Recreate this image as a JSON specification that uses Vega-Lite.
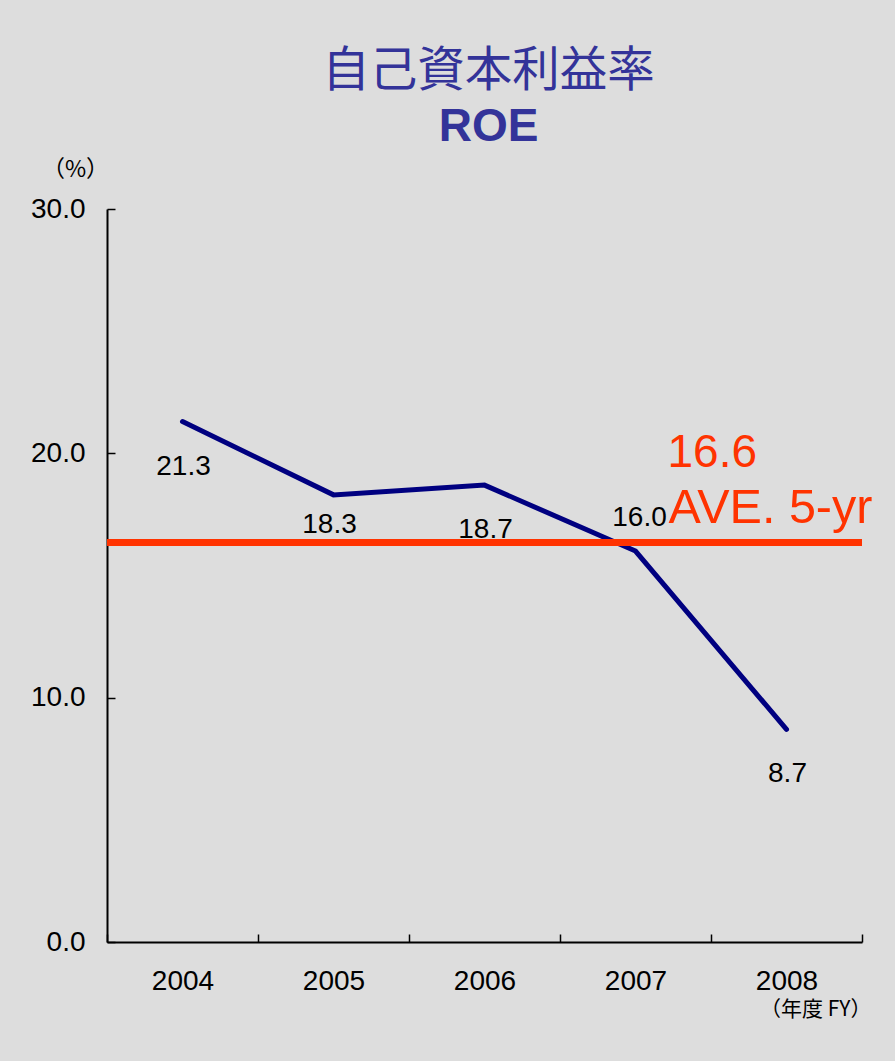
{
  "$schema": "https://vega.github.io/schema/vega-lite/v6.json",
  "width": 755,
  "height": 733,
  "autosize": {"type": "none"},
  "padding": {"left": 107, "top": 209, "right": 33, "bottom": 119},
  "background": "#dddddd",
  "config": {
    "view": {"stroke": null},
    "font": "Liberation Sans",
    "axis": {
      "grid": false,
      "domainColor": "#000000",
      "domainWidth": 2,
      "tickColor": "#000000",
      "tickWidth": 1.5,
      "tickSize": -8,
      "labelColor": "#000000",
      "labelFont": "Liberation Sans",
      "labelFontSize": 28,
      "titleColor": "#000000",
      "titleFontWeight": "normal"
    }
  },
  "title": {
    "text": "自己資本利益率",
    "subtitle": "ROE",
    "anchor": "middle",
    "font": "Noto Sans CJK JP",
    "fontSize": 47.5,
    "fontWeight": "normal",
    "color": "#333399",
    "subtitleFont": "Liberation Sans",
    "subtitleFontSize": 46,
    "subtitleFontWeight": "bold",
    "subtitleColor": "#333399",
    "subtitlePadding": 10,
    "offset": 8,
    "dx": 4
  },
  "datasets": {
    "roe": [
      {"year": 2004, "roe": 21.3},
      {"year": 2005, "roe": 18.3},
      {"year": 2006, "roe": 18.7},
      {"year": 2007, "roe": 16.0},
      {"year": 2008, "roe": 8.7}
    ],
    "avg": [
      {"avg": 16.35, "value_label": "16.6", "note": "AVE. 5-yr"}
    ]
  },
  "layer": [
    {
      "data": {"name": "roe"},
      "mark": {"type": "line", "color": "#000080", "strokeWidth": 5, "strokeCap": "round", "strokeJoin": "miter"},
      "encoding": {
        "x": {
          "field": "year",
          "type": "quantitative",
          "scale": {"domain": [2003.5, 2008.5], "nice": false, "zero": false},
          "axis": {
            "values": [2003.5, 2004.5, 2005.5, 2006.5, 2007.5, 2008.5],
            "labelExpr": "datum.value > 2008 ? '' : format(datum.value + 0.5, 'd')",
            "labelOffset": 75.5,
            "labelFlush": false,
            "labelOverlap": false,
            "labelBound": false,
            "labelPadding": 33,
            "title": "（年度 FY）",
            "titleFont": "Noto Sans CJK JP",
            "titleFontSize": 21,
            "titleAnchor": "end",
            "titleAlign": "right",
            "titleBaseline": "middle",
            "titleX": 764,
            "titleY": 67
          }
        },
        "y": {
          "field": "roe",
          "type": "quantitative",
          "scale": {"domain": [0, 30], "nice": false},
          "axis": {
            "values": [0, 10, 20, 30],
            "format": ".1f",
            "labelPadding": 30,
            "title": "（%）",
            "titleFont": "Noto Sans CJK JP",
            "titleFontSize": 23,
            "titleAngle": 0,
            "titleAlign": "center",
            "titleBaseline": "middle",
            "titleX": -32,
            "titleY": -40
          }
        }
      }
    },
    {
      "data": {"name": "avg"},
      "mark": {"type": "rule", "color": "#ff3300", "strokeWidth": 7},
      "encoding": {"y": {"field": "avg", "type": "quantitative"}}
    },
    {
      "data": {"name": "avg"},
      "mark": {"type": "text", "color": "#ff3300", "fontSize": 46, "align": "left", "baseline": "alphabetic", "dx": 32, "dy": -76},
      "encoding": {
        "x": {"datum": 2007, "type": "quantitative"},
        "y": {"field": "avg", "type": "quantitative"},
        "text": {"field": "value_label"}
      }
    },
    {
      "data": {"name": "avg"},
      "mark": {"type": "text", "color": "#ff3300", "fontSize": 48.5, "align": "left", "baseline": "alphabetic", "dx": 33, "dy": -20},
      "encoding": {
        "x": {"datum": 2007, "type": "quantitative"},
        "y": {"field": "avg", "type": "quantitative"},
        "text": {"field": "note"}
      }
    },
    {
      "data": {"name": "roe"},
      "transform": [{"filter": "datum.year == 2004 || datum.year == 2006 || datum.year == 2008"}],
      "mark": {"type": "text", "color": "#000000", "fontSize": 28, "align": "center", "baseline": "middle", "dx": 1, "dy": 45},
      "encoding": {
        "x": {"field": "year", "type": "quantitative"},
        "y": {"field": "roe", "type": "quantitative"},
        "text": {"field": "roe", "type": "quantitative", "format": ".1f"}
      }
    },
    {
      "data": {"name": "roe"},
      "transform": [{"filter": "datum.year == 2005"}],
      "mark": {"type": "text", "color": "#000000", "fontSize": 28, "align": "center", "baseline": "middle", "dx": -4, "dy": 30},
      "encoding": {
        "x": {"field": "year", "type": "quantitative"},
        "y": {"field": "roe", "type": "quantitative"},
        "text": {"field": "roe", "type": "quantitative", "format": ".1f"}
      }
    },
    {
      "data": {"name": "roe"},
      "transform": [{"filter": "datum.year == 2007"}],
      "mark": {"type": "text", "color": "#000000", "fontSize": 28, "align": "center", "baseline": "middle", "dx": 4, "dy": -33},
      "encoding": {
        "x": {"field": "year", "type": "quantitative"},
        "y": {"field": "roe", "type": "quantitative"},
        "text": {"field": "roe", "type": "quantitative", "format": ".1f"}
      }
    }
  ]
}
